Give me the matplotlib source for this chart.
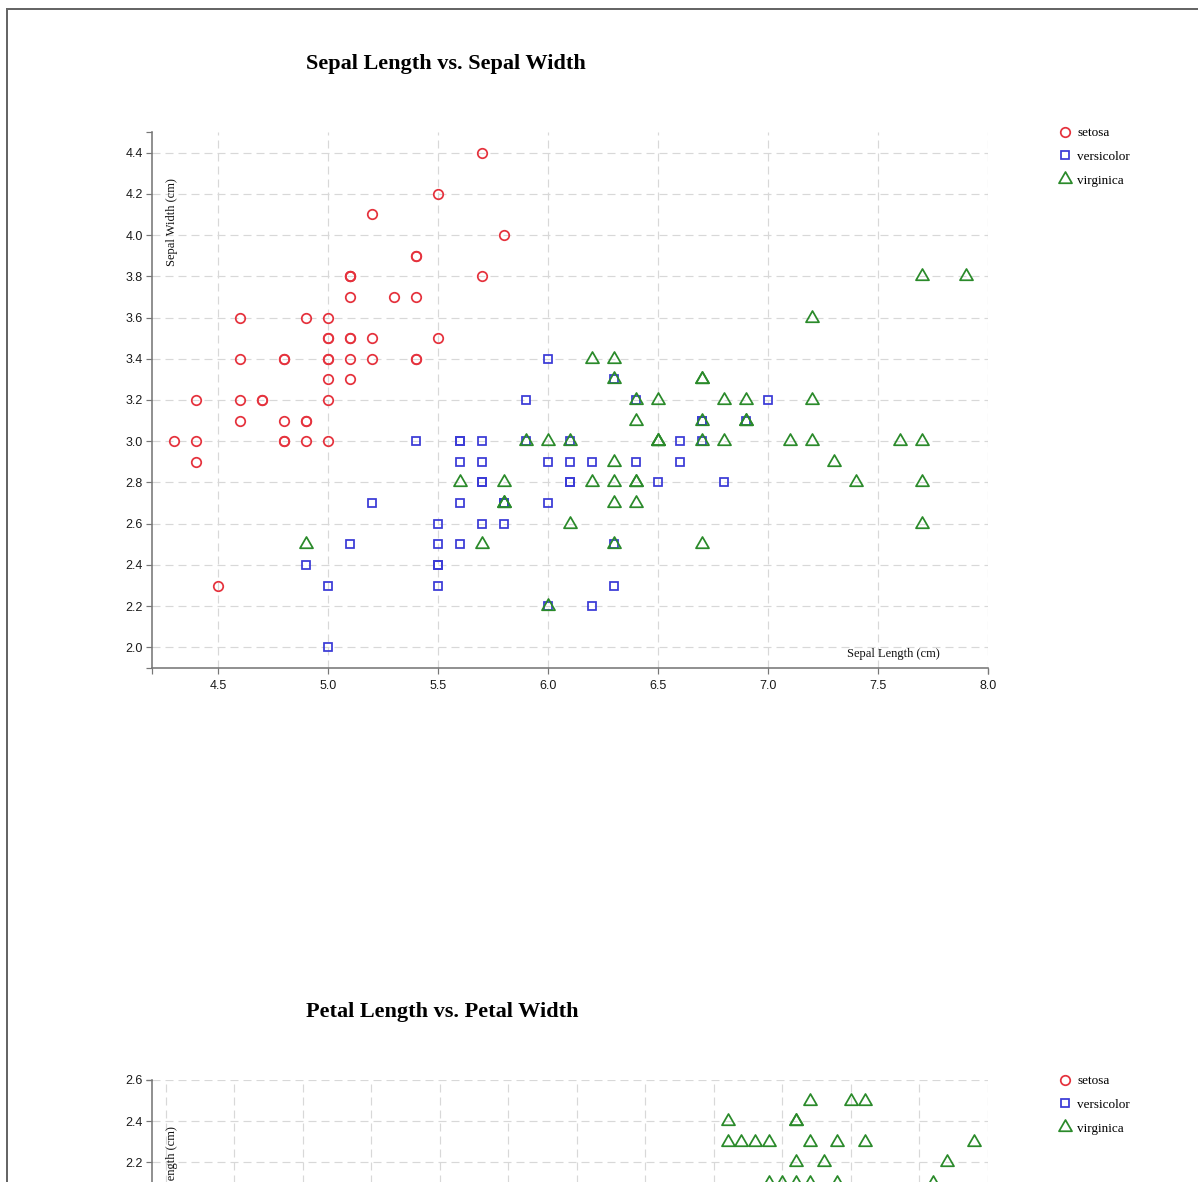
import matplotlib
matplotlib.use('Agg')
import matplotlib.pyplot as plt
from matplotlib.ticker import MultipleLocator, FormatStrFormatter, FixedLocator
from matplotlib.lines import Line2D
from matplotlib.path import Path

# ---------------- data (Iris) ----------------
species = ["setosa", "versicolor", "virginica"]

setosa_sepal_length = [5.1, 4.9, 4.7, 4.6, 5.0, 5.4, 4.6, 5.0, 4.4, 4.9, 5.4, 4.8, 4.8, 4.3, 5.8, 5.7, 5.4, 5.1, 5.7, 5.1,
                       5.4, 5.1, 4.6, 5.1, 4.8, 5.0, 5.0, 5.2, 5.2, 4.7, 4.8, 5.4, 5.2, 5.5, 4.9, 5.0, 5.5, 4.9, 4.4, 5.1,
                       5.0, 4.5, 4.4, 5.0, 5.1, 4.8, 5.1, 4.6, 5.3, 5.0]
setosa_sepal_width = [3.5, 3.0, 3.2, 3.1, 3.6, 3.9, 3.4, 3.4, 2.9, 3.1, 3.7, 3.4, 3.0, 3.0, 4.0, 4.4, 3.9, 3.5, 3.8, 3.8,
                      3.4, 3.7, 3.6, 3.3, 3.4, 3.0, 3.4, 3.5, 3.4, 3.2, 3.1, 3.4, 4.1, 4.2, 3.1, 3.2, 3.5, 3.6, 3.0, 3.4,
                      3.5, 2.3, 3.2, 3.5, 3.8, 3.0, 3.8, 3.2, 3.7, 3.3]
setosa_petal_length = [1.4, 1.4, 1.3, 1.5, 1.4, 1.7, 1.4, 1.5, 1.4, 1.5, 1.5, 1.6, 1.4, 1.1, 1.2, 1.5, 1.3, 1.4, 1.7, 1.5,
                       1.7, 1.5, 1.0, 1.7, 1.9, 1.6, 1.6, 1.5, 1.4, 1.6, 1.6, 1.5, 1.5, 1.4, 1.5, 1.2, 1.3, 1.4, 1.3, 1.5,
                       1.3, 1.3, 1.3, 1.6, 1.9, 1.4, 1.6, 1.4, 1.5, 1.4]
setosa_petal_width = [0.2, 0.2, 0.2, 0.2, 0.2, 0.4, 0.3, 0.2, 0.2, 0.1, 0.2, 0.2, 0.1, 0.1, 0.2, 0.4, 0.4, 0.3, 0.3, 0.3,
                      0.2, 0.4, 0.2, 0.5, 0.2, 0.2, 0.4, 0.2, 0.2, 0.2, 0.2, 0.4, 0.1, 0.2, 0.2, 0.2, 0.2, 0.1, 0.2, 0.2,
                      0.3, 0.3, 0.2, 0.6, 0.4, 0.3, 0.2, 0.2, 0.2, 0.2]

versicolor_sepal_length = [7.0, 6.4, 6.9, 5.5, 6.5, 5.7, 6.3, 4.9, 6.6, 5.2, 5.0, 5.9, 6.0, 6.1, 5.6, 6.7, 5.6, 5.8, 6.2, 5.6,
                           5.9, 6.1, 6.3, 6.1, 6.4, 6.6, 6.8, 6.7, 6.0, 5.7, 5.5, 5.5, 5.8, 6.0, 5.4, 6.0, 6.7, 6.3, 5.6, 5.5,
                           5.5, 6.1, 5.8, 5.0, 5.6, 5.7, 5.7, 6.2, 5.1, 5.7]
versicolor_sepal_width = [3.2, 3.2, 3.1, 2.3, 2.8, 2.8, 3.3, 2.4, 2.9, 2.7, 2.0, 3.0, 2.2, 2.9, 2.9, 3.1, 3.0, 2.7, 2.2, 2.5,
                          3.2, 2.8, 2.5, 2.8, 2.9, 3.0, 2.8, 3.0, 2.9, 2.6, 2.4, 2.4, 2.7, 2.7, 3.0, 3.4, 3.1, 2.3, 3.0, 2.5,
                          2.6, 3.0, 2.6, 2.3, 2.7, 3.0, 2.9, 2.9, 2.5, 2.8]
versicolor_petal_length = [4.7, 4.5, 4.9, 4.0, 4.6, 4.5, 4.7, 3.3, 4.6, 3.9, 3.5, 4.2, 4.0, 4.7, 3.6, 4.4, 4.5, 4.1, 4.5, 3.9,
                           4.8, 4.0, 4.9, 4.7, 4.3, 4.4, 4.8, 5.0, 4.5, 3.5, 3.8, 3.7, 3.9, 5.1, 4.5, 4.5, 4.7, 4.4, 4.1, 4.0,
                           4.4, 4.6, 4.0, 3.3, 4.2, 4.2, 4.2, 4.3, 3.0, 4.1]
versicolor_petal_width = [1.4, 1.5, 1.5, 1.3, 1.5, 1.3, 1.6, 1.0, 1.3, 1.4, 1.0, 1.5, 1.0, 1.4, 1.3, 1.4, 1.5, 1.0, 1.5, 1.1,
                          1.8, 1.3, 1.5, 1.2, 1.3, 1.4, 1.4, 1.7, 1.5, 1.0, 1.1, 1.0, 1.2, 1.6, 1.5, 1.6, 1.5, 1.3, 1.3, 1.3,
                          1.2, 1.4, 1.2, 1.0, 1.3, 1.2, 1.3, 1.3, 1.1, 1.3]

virginica_sepal_length = [6.3, 5.8, 7.1, 6.3, 6.5, 7.6, 4.9, 7.3, 6.7, 7.2, 6.5, 6.4, 6.8, 5.7, 5.8, 6.4, 6.5, 7.7, 7.7, 6.0,
                          6.9, 5.6, 7.7, 6.3, 6.7, 7.2, 6.2, 6.1, 6.4, 7.2, 7.4, 7.9, 6.4, 6.3, 6.1, 7.7, 6.3, 6.4, 6.0, 6.9,
                          6.7, 6.9, 5.8, 6.8, 6.7, 6.7, 6.3, 6.5, 6.2, 5.9]
virginica_sepal_width = [3.3, 2.7, 3.0, 2.9, 3.0, 3.0, 2.5, 2.9, 2.5, 3.6, 3.2, 2.7, 3.0, 2.5, 2.8, 3.2, 3.0, 3.8, 2.6, 2.2,
                         3.2, 2.8, 2.8, 2.7, 3.3, 3.2, 2.8, 3.0, 2.8, 3.0, 2.8, 3.8, 2.8, 2.8, 2.6, 3.0, 3.4, 3.1, 3.0, 3.1,
                         3.1, 3.1, 2.7, 3.2, 3.3, 3.0, 2.5, 3.0, 3.4, 3.0]
virginica_petal_length = [6.0, 5.1, 5.9, 5.6, 5.8, 6.6, 4.5, 6.3, 5.8, 6.1, 5.1, 5.3, 5.5, 5.0, 5.1, 5.3, 5.5, 6.7, 6.9, 5.0,
                          5.7, 4.9, 6.7, 4.9, 5.7, 6.0, 4.8, 4.9, 5.6, 5.8, 6.1, 6.4, 5.6, 5.1, 5.6, 6.1, 5.6, 5.5, 4.8, 5.4,
                          5.6, 5.1, 5.1, 5.9, 5.7, 5.2, 5.0, 5.2, 5.4, 5.1]
virginica_petal_width = [2.5, 1.9, 2.1, 1.8, 2.2, 2.1, 1.7, 1.8, 1.8, 2.5, 2.0, 1.9, 2.1, 2.0, 2.4, 2.3, 1.8, 2.2, 2.3, 1.5,
                         2.3, 2.0, 2.0, 1.8, 2.1, 1.8, 1.8, 1.8, 2.1, 1.6, 1.9, 2.0, 2.2, 1.5, 1.4, 2.3, 2.4, 1.8, 1.8, 2.1,
                         2.4, 2.3, 1.9, 2.3, 2.5, 2.3, 1.9, 2.0, 2.3, 1.8]

sepal_length = [setosa_sepal_length, versicolor_sepal_length, virginica_sepal_length]
sepal_width = [setosa_sepal_width, versicolor_sepal_width, virginica_sepal_width]
petal_length = [setosa_petal_length, versicolor_petal_length, virginica_petal_length]
petal_width = [setosa_petal_width, versicolor_petal_width, virginica_petal_width]

# ---------------- style ----------------
W, H = 1198, 1182
PT = 72 / 100.0  # points per pixel at dpi 100
SERIF = "Liberation Serif"
SANS = "Liberation Sans"
colors = ["#e5323d", "#3a3ad6", "#2a8a2a"]
tri = Path([(0, 1), (-0.866, -0.5), (0.866, -0.5), (0, 1)],
           [Path.MOVETO, Path.LINETO, Path.LINETO, Path.CLOSEPOLY])
markers = ["o", "s", tri]
msizes = [9.5 * PT, 8.8 * PT, 15 * PT]
plt.rcParams['lines.scale_dashes'] = False

fig = plt.figure(figsize=(W / 100, H / 100), dpi=100)
fig.patch.set_facecolor("white")


def px_axes(left, top, right, bottom):
    return fig.add_axes([left / W, 1 - bottom / H, (right - left) / W, (bottom - top) / H])


def make_chart(top, title, xs, ys, xlim, ylim, xstep, ystep, xlabel, ylabel):
    ax = px_axes(152, top, 988, top + 536)
    for i, name in enumerate(species):
        ax.plot(xs[i], ys[i], linestyle="none", marker=markers[i], ms=msizes[i],
                mfc="none", mec=colors[i], mew=1.75 * PT, label=name, clip_on=False, zorder=3)
    ax.set_xlim(*xlim)
    ax.set_ylim(*ylim)
    ax.xaxis.set_major_locator(MultipleLocator(xstep))
    ax.yaxis.set_major_locator(MultipleLocator(ystep))
    ax.xaxis.set_major_formatter(FormatStrFormatter("%.1f"))
    ax.yaxis.set_major_formatter(FormatStrFormatter("%.1f"))
    ax.xaxis.set_minor_locator(FixedLocator(list(xlim)))
    ax.yaxis.set_minor_locator(FixedLocator(list(ylim)))
    ax.xaxis.remove_overlapping_locs = False
    ax.yaxis.remove_overlapping_locs = False
    for s in ["top", "right"]:
        ax.spines[s].set_visible(False)
    for s in ["left", "bottom"]:
        ax.spines[s].set_color("#777777")
        ax.spines[s].set_linewidth(1.6 * PT)
    ax.tick_params(which="both", direction="out", length=6 * PT, width=1.2 * PT, color="#777777")
    ax.tick_params(axis="x", which="major", pad=6 * PT, labelsize=9, labelcolor="#1a1a1a")
    ax.tick_params(axis="y", which="major", pad=3 * PT, labelsize=9, labelcolor="#1a1a1a")
    for lab in ax.get_xticklabels() + ax.get_yticklabels():
        lab.set_family(SANS)
    ax.grid(True, which="major", color="#d8d8d8", linewidth=1.2 * PT, linestyle=(0, (8 * PT, 5 * PT)))
    ax.set_axisbelow(True)
    ax.set_facecolor("none")
    ax.text(20 / 836, 1 - 46 / 536, ylabel, rotation=90, ha="center", va="top",
            transform=ax.transAxes, fontsize=9, family=SERIF, color="#111111")
    ax.text(1 - 48 / 836, 11 / 536, xlabel, ha="right", va="baseline",
            transform=ax.transAxes, fontsize=9, family=SERIF, color="#111111")
    fig.text(306 / W, 1 - (top - 63) / H, title, ha="left", va="baseline",
             fontsize=16, fontweight="bold", family=SERIF, color="black")
    ax.legend(loc="upper left", bbox_to_anchor=((1058.4 - 152) / 836, 1 + 5 / 536),
              frameon=False, prop={"family": SERIF, "size": 9.5}, handlelength=1.0,
              handletextpad=0.41, labelspacing=0.88, borderpad=0, borderaxespad=0,
              numpoints=1)
    return ax


make_chart(132, "Sepal Length vs. Sepal Width", sepal_length, sepal_width,
           (4.2, 8.0), (1.9, 4.5), 0.5, 0.2, "Sepal Length (cm)", "Sepal Width (cm)")
make_chart(1080, "Petal Length vs. Petal Width", petal_length, petal_width,
           (0.9, 7.0), (0.0, 2.6), 0.5, 0.2, "Petal Width (cm)", "Petal Length (cm)")

# page frame of the screenshot
fig.add_artist(Line2D([7 / W, 7 / W, 1.0], [0.0, 1 - 9 / H, 1 - 9 / H], transform=fig.transFigure,
                      color="#666666", linewidth=2 * PT, solid_joinstyle="miter"))

fig.savefig("out.png", dpi=100, facecolor="white")
